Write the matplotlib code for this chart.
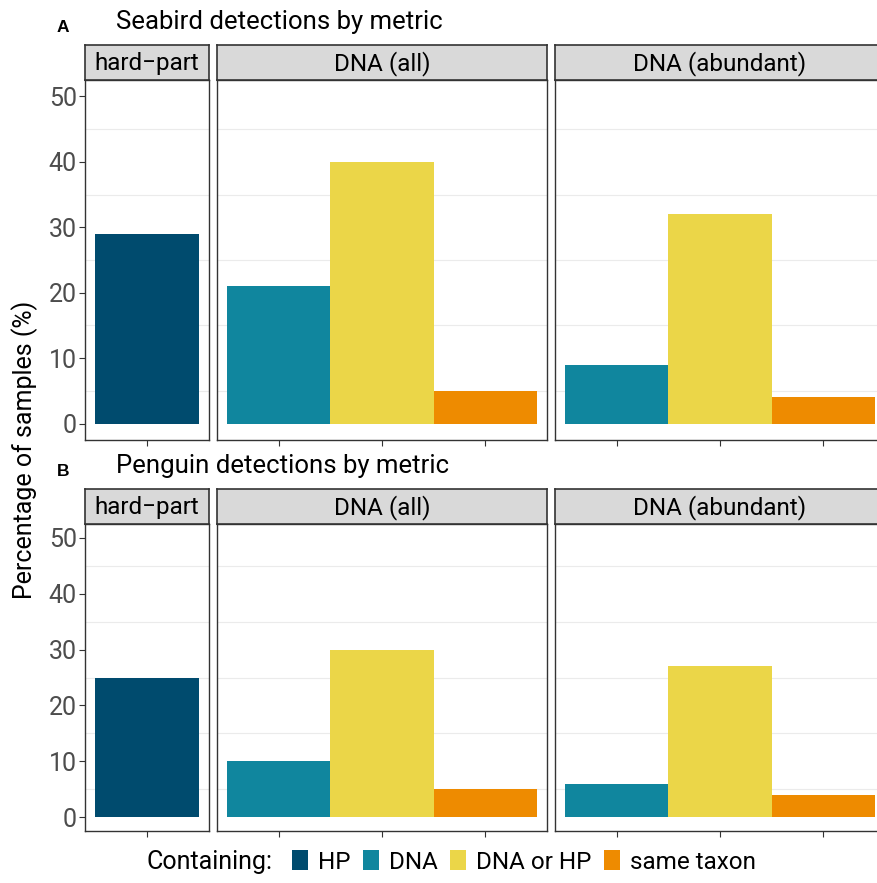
import matplotlib.pyplot as plt
from matplotlib.patches import Patch

plt.rcParams['font.family'] = ['Roboto', 'DejaVu Sans']

W, H = 877, 883

metrics = ['hard-part', 'DNA (all)', 'DNA (abundant)']
legend_labels = ['HP', 'DNA', 'DNA or HP', 'same taxon']
colors = {'HP': '#004B6E', 'DNA': '#10869E', 'DNA or HP': '#EBD648', 'same taxon': '#EE8B00'}

# categories shown in each facet
hp_cats = ['HP']
dna_cats = ['DNA', 'DNA or HP', 'same taxon']

# seabird values (%)
seabird_hp = [29]
seabird_all = [21, 40, 5]
seabird_abund = [9, 32, 4]

# penguin values (%)
penguin_hp = [25]
penguin_all = [10, 30, 5]
penguin_abund = [6, 27, 4]

rows = [
    ('A', 'Seabird detections by metric', [seabird_hp, seabird_all, seabird_abund]),
    ('B', 'Penguin detections by metric', [penguin_hp, penguin_all, penguin_abund]),
]

fig = plt.figure(figsize=(W / 100, H / 100), dpi=100)

def px_axes(x0, y0, x1, y1):
    return fig.add_axes([x0 / W, 1 - y1 / H, (x1 - x0) / W, (y1 - y0) / H])

col_x = [(85, 209), (217, 547), (555, 885)]
# (title y, strip top, panel top, panel bottom)
row_y = [(22, 45, 80, 440), (466, 489, 524, 831)]

for (tag, title, vals), (ty, st, pt, pb) in zip(rows, row_y):
    fig.text(63 / W, 1 - (ty + 6) / H, tag, fontsize=12.5, fontweight='bold',
             family=['Liberation Sans', 'DejaVu Sans'], ha='center', va='center')
    fig.text(116 / W, 1 - ty / H, title, fontsize=18.5, ha='left', va='center')
    for i, ((x0, x1), metric, v) in enumerate(zip(col_x, metrics, vals)):
        cats = hp_cats if i == 0 else dna_cats
        ax = px_axes(x0, pt, x1, pb)
        xs = list(range(len(cats)))
        ax.bar(xs, v, width=1.0, color=[colors[c] for c in cats], zorder=3)
        ax.set_xlim(-0.6, len(cats) - 0.4)
        ax.set_ylim(-2.5, 52.5)
        ax.set_xticks(xs)
        ax.set_xticklabels([])
        ax.set_yticks([0, 10, 20, 30, 40, 50])
        ax.set_yticks([5, 15, 25, 35, 45], minor=True)
        ax.grid(which='minor', axis='y', color='#EBEBEB', lw=0.8, zorder=0)
        ax.tick_params(which='minor', length=0)
        ax.tick_params(which='major', length=4, width=0.8, color='#333333',
                       labelsize=18, labelcolor='#4D4D4D', pad=2)
        if i > 0:
            ax.set_yticklabels([])
            ax.tick_params(axis='y', which='major', length=0)
        for s in ax.spines.values():
            s.set_color('#333333')
            s.set_linewidth(1.0)
        sax = px_axes(x0, st, x1, pt)
        sax.set_facecolor('#D9D9D9')
        sax.set_xticks([])
        sax.set_yticks([])
        for s in sax.spines.values():
            s.set_color('#333333')
            s.set_linewidth(1.2)
        sax.text(0.5, 0.47, metric.replace('-', '\u2212'), transform=sax.transAxes,
                 ha='center', va='center', fontsize=17.5)

fig.text(25 / W, 1 - 450 / H, 'Percentage of samples (%)', rotation=90,
         fontsize=18, ha='center', va='center')

# legend at the bottom, title on the left
fig.text(147 / W, 1 - 862 / H, 'Containing:', fontsize=18, ha='left', va='center')
handles = [Patch(facecolor=colors[c], edgecolor='none', label=c) for c in legend_labels]
fig.legend(handles=handles, loc='center left', bbox_to_anchor=(292 / W, 1 - 862 / H),
           ncol=4, frameon=False, fontsize=17.5,
           handlelength=0.66, handleheight=0.9, handletextpad=0.42,
           columnspacing=0.5, borderaxespad=0, borderpad=0)

fig.savefig('out.png', dpi=100)
